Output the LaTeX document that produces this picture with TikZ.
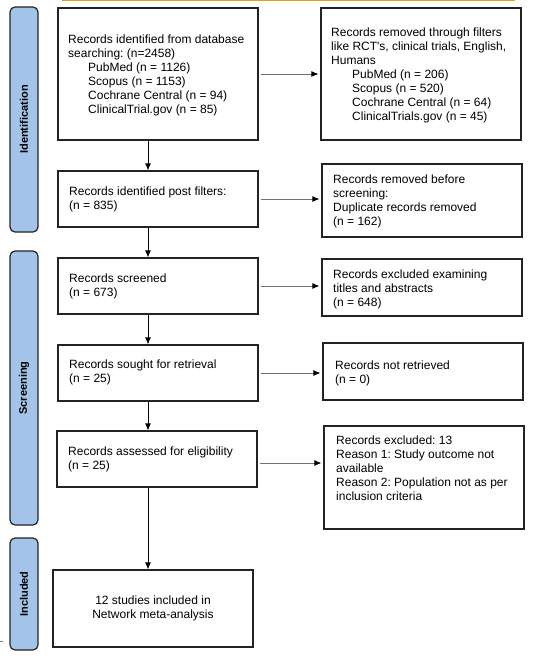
\documentclass[tikz,border=0pt]{standalone}
\usepackage{fontspec}
\setmainfont{Liberation Sans}[Ligatures=TeXOff]
\usetikzlibrary{arrows.meta}
\definecolor{barblue}{RGB}{163,196,232}
\definecolor{goldline}{RGB}{214,162,24}
\definecolor{edgecol}{RGB}{35,35,35}
\begin{document}
\begin{tikzpicture}[x=1pt,y=-1pt,
  box/.style={draw=edgecol, line width=1.2pt, fill=white, inner sep=0pt, minimum width=200pt},
  txt/.style={align=left, inner sep=0pt, anchor=west, font=\fontsize{12}{14}\selectfont\frenchspacing},
  bar/.style={draw=edgecol, line width=1.2pt, fill=barblue, rounded corners=5pt, minimum width=28pt, inner sep=0pt},
  lab/.style={font=\bfseries\fontsize{11}{13}\selectfont, rotate=90, inner sep=0pt},
  varr/.style={-{Latex[length=7pt,width=6pt]}, line width=0.8pt, draw=black},
  harr/.style={-{Latex[length=7pt,width=6pt,color=black]}, line width=0.8pt, draw=black!55, shorten >=2pt, shorten <=2pt}
]
\useasboundingbox (0,0) rectangle (538,659);
\fill[white] (0,0) rectangle (538,659);
\draw[goldline, line width=1.6pt] (62,0.5) -- (515,0.5);
\draw[gray, line width=0.6pt] (0,641) -- (2.5,641);

% side bars
\node[bar, minimum height=225pt] (idbar) at (24,119.5) {};
\node[lab] (idlab) at (idbar.center) {Identification};
\node[bar, minimum height=274pt] (scbar) at (24,388) {};
\node[lab] (sclab) at (scbar.center) {Screening};
\node[bar, minimum height=112pt] (inbar) at (24,594) {};
\node[lab] (inlab) at (inbar.center) {Included};

% left column boxes
\node[box, minimum height=132pt] (b1) at (158,74) {};
\node[box, minimum height=56pt] (b3) at (158,199) {};
\node[box, minimum height=56pt] (b5) at (158,286) {};
\node[box, minimum height=56pt] (b7) at (158,373) {};
\node[box, minimum height=56pt] (b9) at (157,459) {};
\node[box, minimum height=77pt, align=center, font=\fontsize{12}{14}\selectfont] (b11) at (153,608.5) {12 studies included in\\Network meta-analysis};

% right column boxes
\node[box, minimum height=132pt] (b2) at (421,74) {};
\node[box, minimum height=73pt] (b4) at (422,200.5) {};
\node[box, minimum height=57pt] (b6) at (422,287.5) {};
\node[box, minimum height=57pt] (b8) at (423,371.5) {};
\node[box, minimum height=103pt] (b10) at (424,477.5) {};

% texts
\node[txt] (t1) at (68,75) {Records identified from database\\searching: (n=2458)\\
\hspace*{20pt}PubMed (n = 1126)\\
\hspace*{20pt}Scopus (n = 1153)\\
\hspace*{20pt}Cochrane Central (n = 94)\\
\hspace*{20pt}ClinicalTrial.gov (n = 85)};
\node[txt] (t3) at (69,199) {Records identified post filters:\\(n = 835)};
\node[txt] (t5) at (69,286) {Records screened\\(n = 673)};
\node[txt] (t7) at (69,372) {Records sought for retrieval\\(n = 25)};
\node[txt] (t9) at (68,459) {Records assessed for eligibility\\(n = 25)};

\node[txt] (t2) at (331,75) {Records removed through filters\\like RCT's, clinical trials, English,\\Humans\\
\hspace*{21pt}PubMed (n = 206)\\
\hspace*{21pt}Scopus (n = 520)\\
\hspace*{21pt}Cochrane Central (n = 64)\\
\hspace*{21pt}ClinicalTrials.gov (n = 45)};
\node[txt] (t4) at (333,201) {Records removed before\\screening:\\Duplicate records removed\\(n = 162)};
\node[txt] (t6) at (333,289) {Records excluded examining\\titles and abstracts\\(n = 648)};
\node[txt] (t8) at (335,373) {Records not retrieved\\(n = 0)};
\node[txt] (t10) at (336,468) {Records excluded: 13\\Reason 1: Study outcome not\\available\\Reason 2: Population not as per\\inclusion criteria};

% vertical arrows
\coordinate (vx) at (148,0);
\draw[varr] (b1.south -| vx) -- (b3.north -| vx);
\draw[varr] (b3.south -| vx) -- (b5.north -| vx);
\draw[varr] (b5.south -| vx) -- (b7.north -| vx);
\draw[varr] (b7.south -| vx) -- (b9.north -| vx);
\draw[varr] (b9.south -| vx) -- (b11.north -| vx);

% horizontal arrows
\draw[harr] (b1.east) -- (b1.east -| b2.west);
\draw[harr] (b3.east) -- (b3.east -| b4.west);
\draw[harr] (b5.east) -- (b5.east -| b6.west);
\draw[harr] (b7.east) -- (b7.east -| b8.west);
\draw[harr] ([yshift=-4pt]b9.east) -- ([yshift=-4pt]b9.east -| b10.west);
\end{tikzpicture}
\end{document}
